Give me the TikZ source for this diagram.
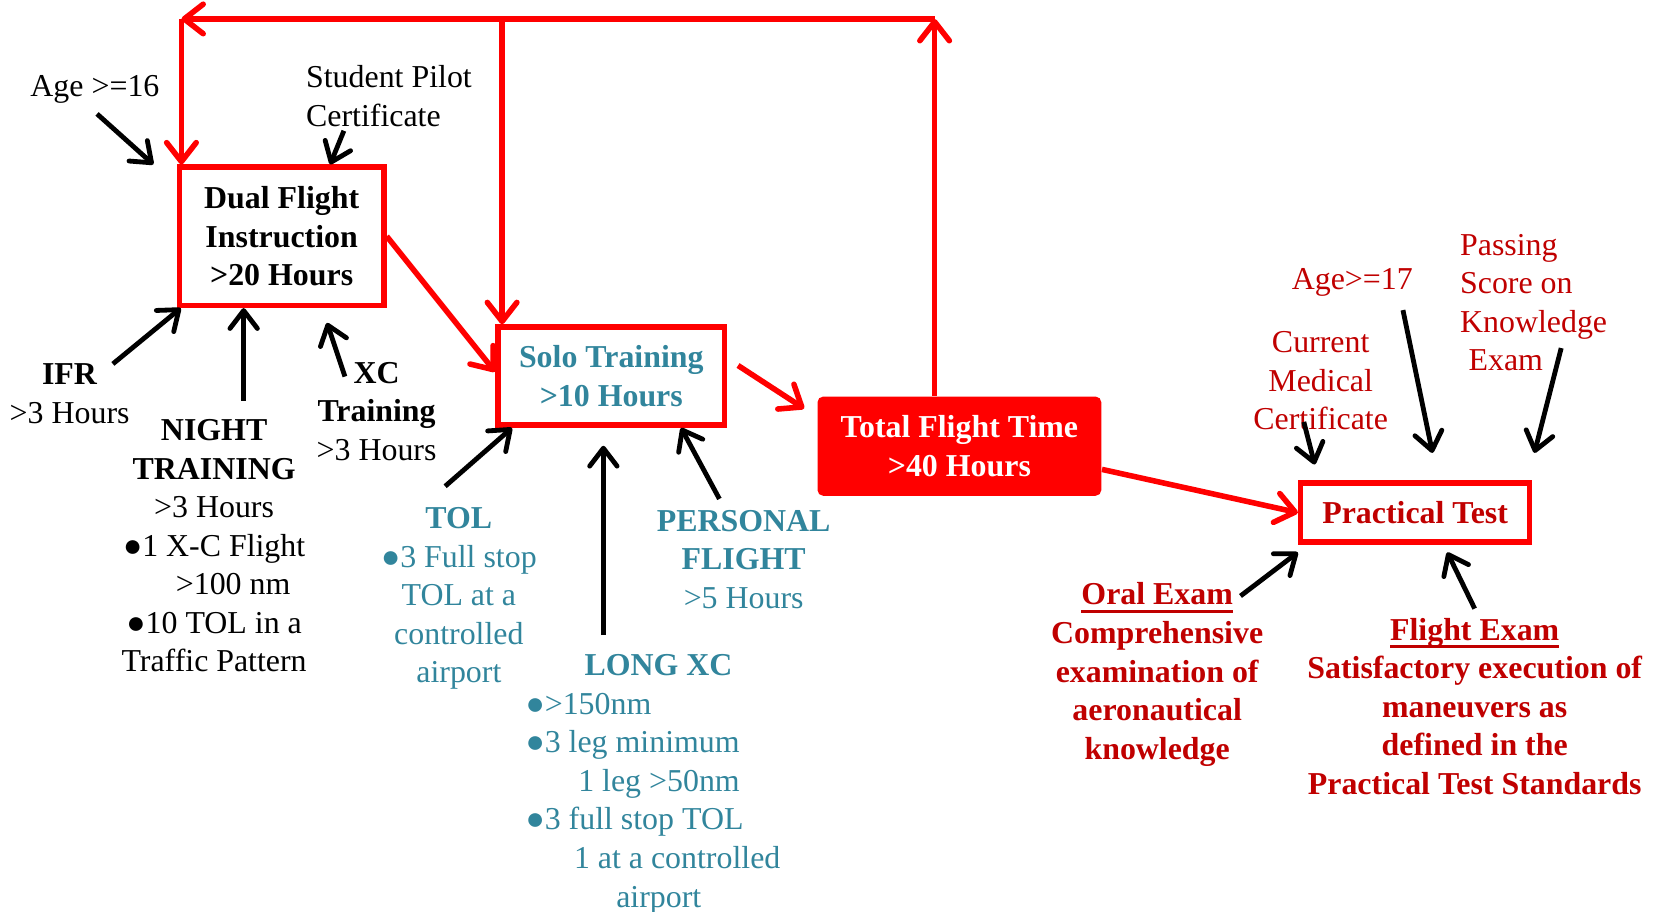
\documentclass[tikz,border=0pt]{standalone}
\usepackage{fontspec}
\setmainfont{Liberation Serif}
\usepackage{xcolor}
\usetikzlibrary{arrows.meta,positioning}
\definecolor{flightred}{HTML}{FF0000}
\definecolor{examred}{HTML}{C00000}
\definecolor{soloteal}{HTML}{31859C}
\newcommand{\examtitle}[1]{\setbox0\hbox{#1}\rlap{\rule[-2.2pt]{\wd0}{0.9pt}}\box0}

\begin{document}
\begin{tikzpicture}[
    font=\fontsize{8.6}{10.4}\selectfont,
    box/.style={
        rectangle,
        draw=flightred,
        line width=1.5pt,
        align=center,
        inner sep=0pt,
        font=\fontsize{8.6}{10.4}\selectfont\bfseries
    },
    totalbox/.style={
        rectangle,
        fill=flightred,
        rounded corners=1.5pt,
        text=white,
        align=center,
        inner sep=0pt,
        font=\fontsize{8.6}{10.4}\selectfont\bfseries
    },
    note/.style={align=center, inner sep=1pt, yshift=-0.035cm},
    solonote/.style={note, text=soloteal},
    examnote/.style={note, text=examred},
    blkarrow/.style={line width=1.3pt, -{Straight Barb[round, length=1.7mm, width=2.6mm]}},
    redarrow/.style={draw=flightred, line width=1.5pt, -{Straight Barb[round, length=1.8mm, width=2.8mm]}},
    redline/.style={draw=flightred, line width=1.5pt}
]
\useasboundingbox (0,0) rectangle (15.68,8.64);

% Main boxes
\node[box, minimum width=1.94cm, minimum height=1.31cm] (dual) at (2.67,6.40) {Dual Flight\\Instruction\\>20 Hours};
\node[box, text=soloteal, minimum width=2.15cm, minimum height=0.93cm] (solo) at (5.795,5.075) {Solo Training\\>10 Hours};
\node[totalbox, minimum width=2.69cm, minimum height=0.94cm] (total) at (9.095,4.41) {Total Flight Time\\>40 Hours};
\node[box, text=examred, minimum width=2.17cm, minimum height=0.56cm] (practical) at (13.415,3.78) {Practical Test};

% Requirements for dual instruction
\node[note] (age16) at (0.90,7.83) {Age >=16};
\node[note, anchor=west, align=left] (spc) at (2.86,7.765) {Student Pilot\\Certificate};
\node[note] (ifr) at (0.66,4.94) {\textbf{IFR}\\>3 Hours};
\node[note] (night) at (2.03,3.50) {\textbf{NIGHT}\\\textbf{TRAINING}\\>3 Hours\\●1 X-C Flight\\\hspace*{0.36cm}>100 nm\\●10 TOL in a\\Traffic Pattern};
\node[note] (xc) at (3.57,4.775) {\textbf{XC}\\\textbf{Training}\\>3 Hours};

% Requirements for solo training
\node[solonote] (tol) at (4.35,3.00) {\textbf{TOL}\\●3 Full stop\\TOL at a\\controlled\\airport};
\node[solonote, anchor=west, align=left] (longxc) at (4.94,1.24) {\hspace*{0.56cm}\textbf{LONG XC}\\●>150nm\\●3 leg minimum\\\hspace*{0.50cm}1 leg >50nm\\●3 full stop TOL\\\hspace*{0.46cm}1 at a controlled\\\hspace*{0.86cm}airport};
\node[solonote] (personal) at (7.05,3.37) {\textbf{PERSONAL}\\\textbf{FLIGHT}\\>5 Hours};

% Requirements for the practical test
\node[examnote] (medical) at (12.52,5.065) {Current\\Medical\\Certificate};
\node[examnote] (age17) at (12.82,6.00) {Age>=17};
\node[examnote, anchor=west, align=left] (passing) at (13.80,5.805) {Passing\\Score on\\Knowledge\\\hspace*{0.08cm}Exam};
\node[examnote, font=\fontsize{8.6}{10.4}\selectfont\bfseries] (oral) at (10.97,2.28) {\examtitle{Oral Exam}\\Comprehensive\\examination of\\aeronautical\\knowledge};
\node[examnote, font=\fontsize{8.6}{10.4}\selectfont\bfseries] (flight) at (13.98,1.98) {\examtitle{Flight Exam}\\Satisfactory execution of\\maneuvers as\\defined in the\\Practical Test Standards};

% Free ends of the arrows
\coordinate (age16end) at (0.92,7.56);
\coordinate (spcend) at (3.26,7.40);
\coordinate (ifrend) at (1.07,5.19);
\coordinate (nightend) at (2.31,4.84);
\coordinate (xcend) at (3.27,5.07);
\coordinate (tolend) at (4.22,4.03);
\coordinate (longxcend) at (5.72,2.62);
\coordinate (personalend) at (6.82,3.91);
\coordinate (medicalend) at (12.36,4.64);
\coordinate (age17end) at (13.30,5.70);
\coordinate (passingend) at (14.80,5.34);
\coordinate (oralend) at (11.76,2.99);
\coordinate (flightend) at (13.98,2.87);

% Feedback loop corners
\coordinate (topR) at (8.86,8.46);
\coordinate (topM) at (4.76,8.46);
\coordinate (topL) at (1.72,8.46);

% Black arrows
\draw[blkarrow] (age16end) -- ([xshift=-0.22cm]dual.north west);
\draw[blkarrow] (spcend) -- ([xshift=0.46cm]dual.north);
\draw[blkarrow] (ifrend) -- ([xshift=0.04cm]dual.south west);
\draw[blkarrow] (nightend) -- (nightend |- dual.south);
\draw[blkarrow] (xcend) -- ([xshift=0.43cm,yshift=-0.14cm]dual.south);
\draw[blkarrow] (tolend) -- ([xshift=0.16cm]solo.south west);
\draw[blkarrow] (longxcend) -- ([yshift=-0.17cm]longxcend |- solo.south);
\draw[blkarrow] (personalend) -- ([xshift=-0.44cm]solo.south east);
\draw[blkarrow] (medicalend) -- ([xshift=0.16cm,yshift=0.15cm]practical.north west);
\draw[blkarrow] (age17end) -- ([xshift=0.165cm,yshift=0.26cm]practical.north);
\draw[blkarrow] (passingend) -- ([xshift=0.02cm,yshift=0.26cm]practical.north east);
\draw[blkarrow] (oralend) -- ([yshift=-0.07cm]practical.south west);
\draw[blkarrow] (flightend) -- ([xshift=0.305cm,yshift=-0.07cm]practical.south);

% Red arrows
\draw[redarrow] (dual.east) -- ([yshift=0.04cm]solo.west);
\draw[redarrow] ([xshift=0.10cm,yshift=0.10cm]solo.east) -- ([xshift=-0.12cm,yshift=-0.12cm]total.north west);
\draw[redarrow] ([yshift=-0.22cm]total.east) -- (practical.west);
\draw[redarrow] ([xshift=-0.235cm]total.north) -- (topR);
\draw[redarrow] (topR) -- (topL);
\draw[redarrow] (topL) -- (topL |- dual.north);
\draw[redarrow] (topM) -- (topM |- solo.north);

\end{tikzpicture}
\end{document}
